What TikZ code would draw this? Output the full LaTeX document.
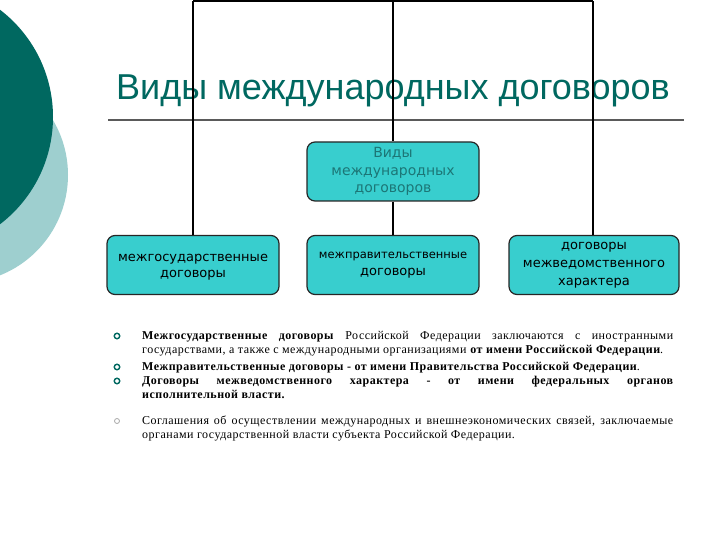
\documentclass[tikz,border=0pt]{standalone}
\usepackage{fontspec}
\setmainfont{Liberation Serif}[LetterSpace=4]
\newfontfamily\titlefont{Liberation Sans}
\newfontfamily\boxfont{DejaVu Sans}
\usetikzlibrary{positioning}
\definecolor{tealdark}{RGB}{0,104,96}
\definecolor{teallight}{RGB}{158,207,207}
\definecolor{boxfill}{RGB}{56,206,206}
\definecolor{boxtext}{RGB}{28,118,118}
\definecolor{rulegray}{RGB}{90,90,90}
\tikzstyle{kind} = [rectangle, rounded corners=8pt, draw=black!85, line width=1.2pt, fill=boxfill, minimum width=172pt, minimum height=59pt, align=center, inner sep=2pt, font=\boxfont\fontsize{13}{17}\selectfont]
\tikzstyle{link} = [line width=2pt]
\tikzstyle{item} = [anchor=north west, text width=531pt, align=justify, inner sep=0pt, font=\fontsize{12}{13.8}\selectfont]
\tikzstyle{dot} = [circle, draw=tealdark, line width=1.4pt, minimum size=5.5pt, inner sep=0pt]

\begin{document}
\begin{tikzpicture}[x=1pt, y=-1pt]
		\useasboundingbox (0,0) rectangle (720,540);
		\coordinate (topl) at (193,1);
		\coordinate (topm) at (393,1);
		\coordinate (topr) at (593,1);
		\coordinate (rulel) at (108,120);
		\coordinate (ruler) at (684,120);
		% Circles at the left edge
		\begin{scope}
		\clip (0,0) rectangle (720,540);
		\fill[teallight] (-40,175) circle (108);
		\fill[tealdark] (-82,117) circle (135);
		\end{scope}
		% Title
		\node[name=title, anchor=base west, inner sep=0pt, text=tealdark, font=\titlefont\fontsize{36}{40}\selectfont] at (116,100) {Виды международных договоров};
		\draw[rulegray, line width=1.3pt] (rulel) -- (ruler);
		% Boxes
		\node[kind, name=root, text=boxtext, font=\boxfont\fontsize{14}{17.5}\selectfont] at (393,171.5) {Виды\\международных\\договоров};
		\node[kind, name=state, font=\boxfont\fontsize{13}{16}\selectfont] at (193,265) {\strut межгосударственные\\договоры};
		\node[kind, name=gov] at (393,265) {{\fontsize{11.5}{15}\selectfont межправительственные}\\договоры};
		\node[kind, name=dept, minimum width=170pt, font=\boxfont\fontsize{13}{18}\selectfont] at (594,265) {договоры\\межведомственного\\характера};
		% Connectors
		\draw[link] (topl) -- (topr);
		\draw[link] (topl) -- (state.north);
		\draw[link] (topm) -- (root.north);
		\draw[link] (root.south) -- (gov.north);
		\draw[link] (topr) -- (topr |- dept.north);
		% Bullets
		\node[dot, name=b1] at (117,336) {};
		\node[dot, name=b2] at (117,367) {};
		\node[dot, name=b3] at (117,381) {};
		\node[dot, name=b4, draw=gray!70, line width=0.8pt, minimum size=5pt] at (117,421) {};
		% Text
		\node[item, name=t1] at (142,331) {\textbf{Межгосударственные договоры} Российской Федерации заключаются с иностранными\linebreak государствами, а также с международными организациями \textbf{от имени Российской Федерации}.};
		\node[item, name=t2] at (142,362) {\textbf{Межправительственные договоры - от имени Правительства Российской Федерации}.};
		\node[item, name=t3] at (142,376) {\textbf{Договоры межведомственного характера - от имени федеральных органов\linebreak исполнительной власти.}};
		\node[item, name=t4] at (142,416) {Соглашения об осуществлении международных и внешнеэкономических связей, заключаемые\linebreak органами государственной власти субъекта Российской Федерации.};
\end{tikzpicture}
\end{document}
